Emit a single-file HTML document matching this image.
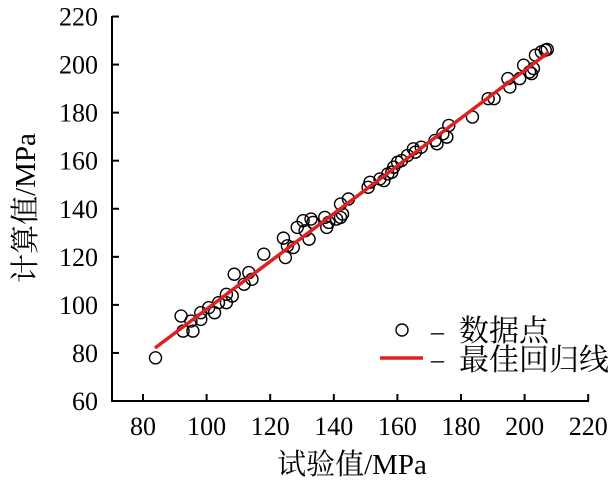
<!DOCTYPE html>
<html><head><meta charset="utf-8"><style>
html,body{margin:0;padding:0;background:#fff;width:615px;height:481px;overflow:hidden}
svg text{font-family:"Liberation Serif","Noto Serif CJK SC",serif;fill:#000}
</style></head><body>
<svg id="s" width="615" height="481" xmlns="http://www.w3.org/2000/svg">
<g stroke="#000" stroke-width="2" fill="none">
<path d="M112,16 V401 H589"/>
</g>
<g id="ticks" stroke="#000" stroke-width="2"></g>
<g id="labels" font-size="26"></g>
<g id="pts" fill="none" stroke="#000" stroke-width="1.4"></g>
<line x1="155" y1="348" x2="549" y2="52" stroke="#e02020" stroke-width="3.5"/>
<circle cx="402" cy="330" r="6" fill="none" stroke="#000" stroke-width="1.4"/>
<text x="431" y="340" font-size="26">–</text>
<text x="459" y="341" font-size="30">数据点</text>
<line x1="380" y1="358" x2="423" y2="358" stroke="#e02020" stroke-width="3.5"/>
<text x="431" y="368" font-size="26">–</text>
<text x="459" y="370" font-size="30">最佳回归线</text>
<text x="352" y="474" font-size="29" text-anchor="middle">试验值/MPa</text>
<text transform="translate(35,208) rotate(-90)" font-size="29" text-anchor="middle">计算值/MPa</text>
</svg>
<script>
var ns="http://www.w3.org/2000/svg";
function X(v){return 143+(v-80)*3.18;}
function Y(v){return 401-(v-60)*2.403;}
var t=document.getElementById("ticks"),l=document.getElementById("labels");
function el(p,n,a,tx){var e=document.createElementNS(ns,n);for(var k in a)e.setAttribute(k,a[k]);if(tx)e.textContent=tx;p.appendChild(e);}
for(var v=80;v<=220;v+=20){var x=X(v);el(t,"line",{x1:x,y1:401,x2:x,y2:394});el(l,"text",{x:x,y:435,"text-anchor":"middle"},""+v);}
for(var v=60;v<=220;v+=20){var y=Y(v);el(t,"line",{x1:112,y1:y,x2:119,y2:y});el(l,"text",{x:98,y:y+9,"text-anchor":"end"},""+v);}
var P=[[395,1070],[460,945],[465,990],[490,990],[485,960],[510,955],[510,935],[530,920],[545,935],[555,905],[575,905],[575,880],[590,885],[595,820],[620,850],[632,815],[640,835],[670,760],[720,712],[725,770],[730,735],[745,740],[755,680],[770,660],[775,690],[785,715],[790,655],[795,665],[825,650],[830,680],[835,665],[855,655],[865,610],[870,640],[865,650],[885,595],[935,560],[940,545],[965,535],[975,540],[985,520],[995,515],[1000,500],[1010,485],[1020,480],[1035,465],[1050,445],[1055,455],[1070,440],[1105,420],[1110,430],[1125,400],[1135,410],[1140,375],[1200,350],[1240,295],[1255,295],[1290,235],[1295,260],[1320,235],[1330,195],[1345,215],[1350,220],[1355,205],[1360,165],[1375,155],[1385,150],[1390,148]];
var g=document.getElementById("pts");
P.forEach(function(p){el(g,"circle",{cx:p[0]/2.54,cy:p[1]/2.99,r:6});});
</script>
</body></html>
